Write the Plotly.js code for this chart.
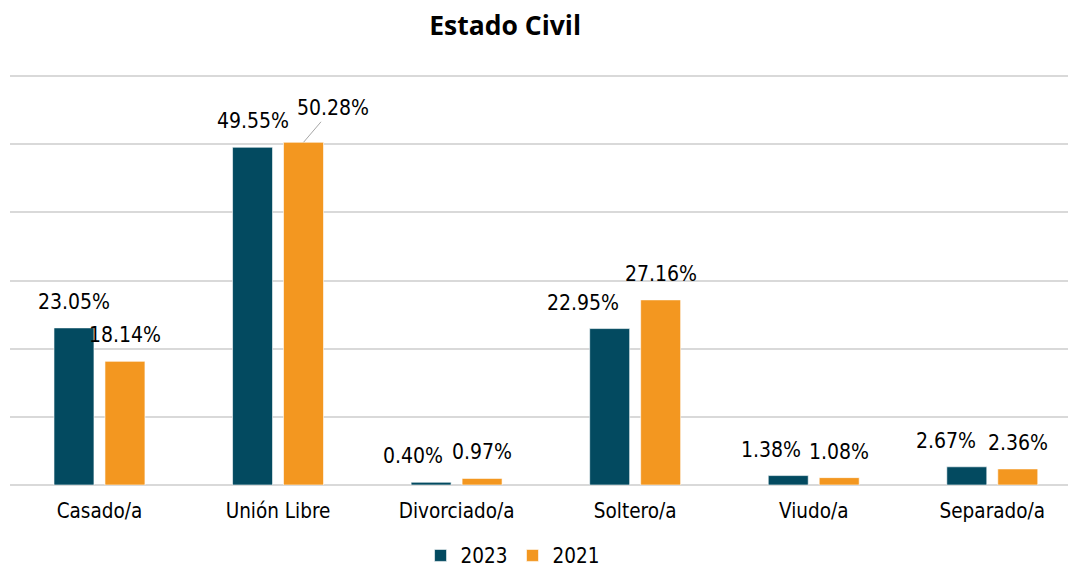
<!DOCTYPE html>
<html>
<head>
<meta charset="utf-8">
<script src="https://cdn.plot.ly/plotly-3.0.1.min.js"></script>
<style>html,body{margin:0;padding:0;background:#fff;}#chart{width:1068px;height:571px;}</style>
</head>
<body>
<div id="chart"></div>
<script>
const categories = ['Casado/a', 'Unión Libre', 'Divorciado/a', 'Soltero/a', 'Viudo/a', 'Separado/a'];
const values2023 = [23.05, 49.55, 0.40, 22.95, 1.38, 2.67];
const values2021 = [18.14, 50.28, 0.97, 27.16, 1.08, 2.36];
const seriesNames = ['2023', '2021'];
const yTicks = [0, 10, 20, 30, 40, 50, 60];

// label placement nudges (pixels), separate from data
const labelDx2023 = [0, 0, -18, -27, -17, -21];
const labelDx2021 = [0, 0, 0, 0, 0, 0];

const FONT = '"DejaVu Sans Condensed", "Liberation Sans Narrow", "Liberation Sans", sans-serif';
const DARK = '#034A60';
const ORANGE = '#F39720';
const BAR_OFF = 25.5;

function fmt(v) { return v.toFixed(2) + '%'; }

const traces = [
  { type: 'bar', name: seriesNames[0], x: categories, y: values2023,
    marker: { color: DARK, line: { color: '#ffffff', width: 0.6 } }, hoverinfo: 'x+y' },
  { type: 'bar', name: seriesNames[1], x: categories, y: values2021,
    marker: { color: ORANGE, line: { color: '#ffffff', width: 0.6 } }, hoverinfo: 'x+y' }
];

const annotations = [];
categories.forEach((c, j) => {
  annotations.push({ x: c, y: values2023[j], xref: 'x', yref: 'y', text: fmt(values2023[j]),
    showarrow: false, xanchor: 'center', yanchor: 'middle',
    xshift: -BAR_OFF + labelDx2023[j], yshift: 26, font: { family: FONT, size: 21, color: '#000' } });
  if (j === 1) {
    annotations.push({ x: c, y: values2021[j], xref: 'x', yref: 'y', text: fmt(values2021[j]),
      showarrow: true, arrowhead: 0, arrowwidth: 1, arrowcolor: '#A6A6A6', standoff: 0,
      ax: 29, ay: -34, xshift: BAR_OFF, font: { family: FONT, size: 21, color: '#000' } });
  } else {
    annotations.push({ x: c, y: values2021[j], xref: 'x', yref: 'y', text: fmt(values2021[j]),
      showarrow: false, xanchor: 'center', yanchor: 'middle',
      xshift: BAR_OFF + labelDx2021[j], yshift: 26, font: { family: FONT, size: 21, color: '#000' } });
  }
});

const layout = {
  width: 1068, height: 571,
  paper_bgcolor: '#ffffff', plot_bgcolor: '#ffffff',
  margin: { l: 10, r: 0, t: 73.5, b: 86 },
  title: { text: '<b>Estado Civil</b>', x: 0.468, xref: 'paper', xanchor: 'center',
    y: 0.955, yref: 'container', yanchor: 'middle',
    font: { family: '"Open Sans", "Liberation Sans", sans-serif', size: 26.5, color: '#000' } },
  barmode: 'group', bargap: 0.429, bargroupgap: 0.216,
  xaxis: { type: 'category', range: [-0.501, 5.424], showgrid: false, zeroline: false,
    showline: false, ticks: '', ticklabelstandoff: 11,
    tickfont: { family: FONT, size: 20.5, color: '#000' }, fixedrange: true },
  yaxis: { range: [0, 60.3], tickvals: yTicks, showticklabels: false, showgrid: true,
    gridcolor: '#D9D9D9', gridwidth: 2, zeroline: true, zerolinecolor: '#D9D9D9', zerolinewidth: 2,
    showline: false, fixedrange: true },
  showlegend: true,
  legend: { orientation: 'h', x: 0.475, xanchor: 'center', y: 0.027, yref: 'container', yanchor: 'middle',
    font: { family: FONT, size: 20.5, color: '#000' }, itemwidth: 30, traceorder: 'normal' },
  annotations: annotations
};

Plotly.newPlot('chart', traces, layout, { displayModeBar: false, staticPlot: true });
</script>
</body>
</html>
